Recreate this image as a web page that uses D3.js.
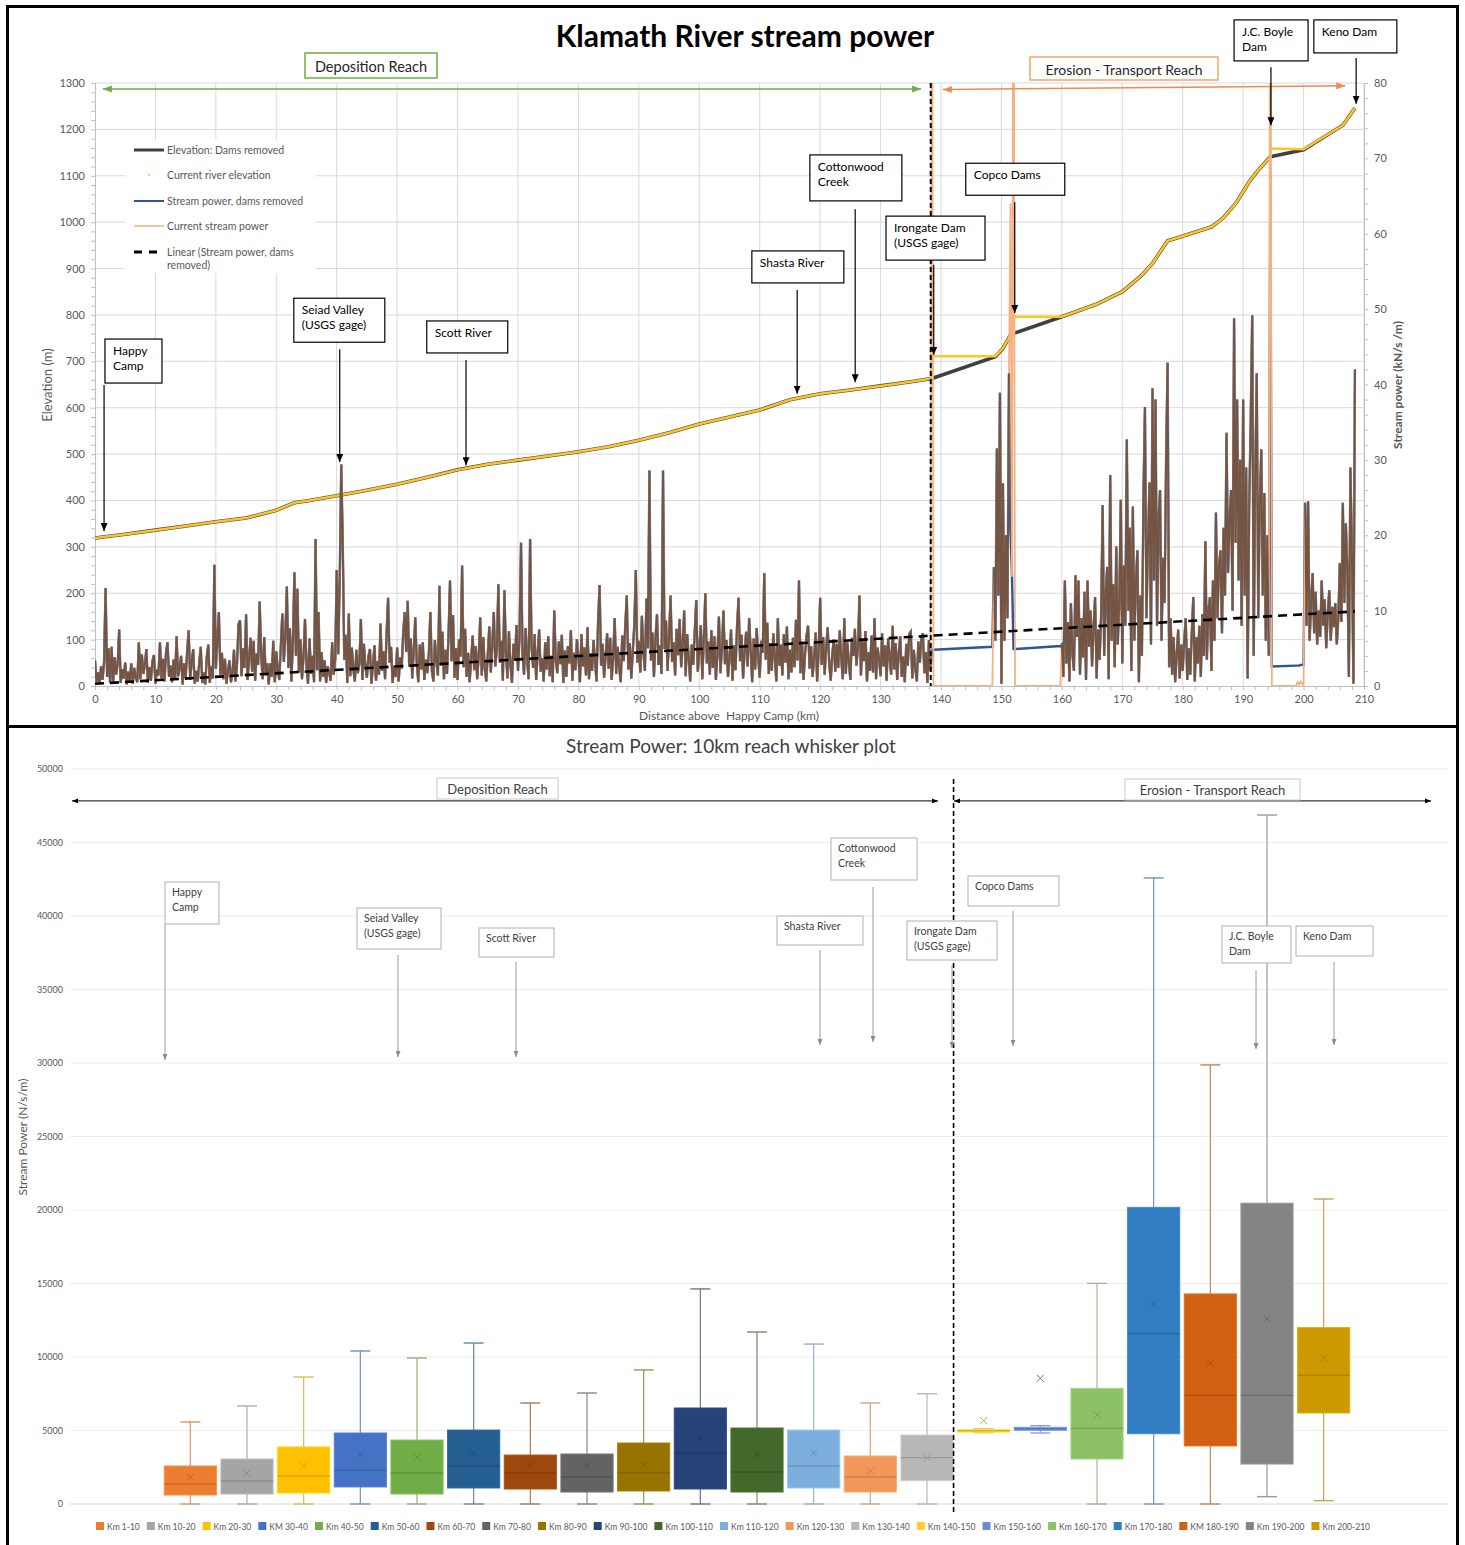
<!DOCTYPE html>
<html>
<head>
<meta charset="utf-8">
<title>Klamath River stream power</title>
<script src="https://cdn.jsdelivr.net/npm/d3@7/dist/d3.min.js"></script>
<style>
  body { margin: 0; background: #fff; }
  svg { display: block; font-family: Lato, "Open Sans", sans-serif; }
  .axis path, .axis line { stroke: #BFBFBF; }
  .axis text { fill: #595959; font-size: 11px; font-family: Lato, sans-serif; }
  .axisB text { font-size: 9px; }
</style>
</head>
<body>
<svg id="chart" width="1465" height="1545"></svg>
<script>
// ---------- top chart data ----------
// river profile (m), km above Happy Camp
const elevKm = [0, 5, 10, 15, 20, 25, 30, 33, 35, 40, 45, 50, 55, 60, 65, 70, 75, 80, 85, 90,
  95, 100, 105, 110, 115, 120, 125, 130, 135, 138.5, 149, 150.3, 151.5, 152, 160, 165.7, 170, 173.1, 175, 177.5,
  179.3, 184.8, 186.7, 188.8, 191, 192.3, 194.5, 200, 206.5, 208.5]
const elevRemoved = [319, 327, 336, 345, 354, 362, 379, 395, 399, 410, 422, 435, 450, 466, 478, 487, 496, 505, 516, 530,
  546, 565, 580, 595, 617, 630, 638, 647, 656, 663, 710, 729, 757, 760, 796, 823, 850, 884, 911, 960,
  967, 990, 1009, 1041, 1087, 1109, 1141, 1156, 1209, 1246]
const elevCurrentKm = [0, 5, 10, 15, 20, 25, 30, 33, 35, 40, 45, 50, 55, 60, 65, 70, 75, 80, 85, 90,
  95, 100, 105, 110, 115, 120, 125, 130, 135, 138.5, 138.55, 149, 150.3, 151.5, 152, 152.05, 160, 165.7, 170, 173.1,
  175, 177.5, 179.3, 184.8, 186.7, 188.8, 191, 192.3, 194.5, 194.55, 200, 206.5, 208.5]
const elevCurrent = [319, 327, 336, 345, 354, 362, 379, 395, 399, 410, 422, 435, 450, 466, 478, 487, 496, 505, 516, 530,
  546, 565, 580, 595, 617, 630, 638, 647, 656, 663, 711, 711, 729, 757, 760, 796, 796, 823, 850, 884,
  911, 960, 967, 990, 1009, 1041, 1087, 1109, 1141, 1159, 1157, 1209, 1246]

// stream power with dams removed (kN/s/m), one value every 0.25 km
const STEP = 0.25
const powerDeposition = [ // km 0 - 138.25
  3.4, 0.5, 1.8, 0.3, 2.6, 0.8, 3.2, 13.0, 1.2, 5.0, 0.4, 5.2, 0.6, 3.8, 1.5, 2.9, 7.5, 0.4, 2.2, 1.0,
  3.1, 0.2, 1.9, 0.6, 3.0, 0.3, 2.4, 1.1, 0.5, 5.8, 0.9, 4.2, 1.6, 2.8, 4.9, 0.4, 2.5, 0.7, 3.3, 4.1,
  0.3, 2.2, 1.4, 5.8, 1.0, 3.6, 0.6, 4.4, 5.8, 1.2, 2.7, 0.5, 3.5, 0.9, 6.6, 1.3, 2.4, 4.0, 0.2, 3.0,
  1.1, 4.6, 7.4, 0.8, 3.2, 4.9, 0.3, 2.0, 0.6, 3.1, 5.2, 0.4, 1.8, 0.2, 3.9, 5.5, 0.4, 2.6, 1.0, 16.1,
  2.3, 6.1, 9.8, 1.5, 4.4, 0.9, 3.6, 0.3, 2.0, 3.4, 0.5, 1.7, 4.8, 0.6, 2.9, 8.2, 8.7, 1.3, 5.0, 2.4,
  9.5, 0.8, 3.7, 6.4, 1.9, 6.0, 0.7, 4.3, 2.8, 11.2, 4.1, 0.9, 6.5, 1.4, 3.0, 0.2, 3.0, 1.2, 6.0, 0.5,
  4.6, 2.1, 0.8, 5.3, 9.6, 3.2, 6.8, 13.2, 2.4, 7.7, 0.6, 5.9, 15.1, 4.0, 12.9, 1.8, 6.2, 0.9, 3.8, 8.9,
  2.7, 0.3, 6.3, 1.6, 4.0, 0.5, 19.5, 2.1, 9.8, 0.6, 4.5, 1.2, 3.4, 0.4, 2.6, 1.8, 0.7, 5.8, 1.5, 3.6,
  15.4, 4.2, 14.2, 29.4, 19.0, 3.5, 6.8, 0.4, 9.6, 1.3, 5.1, 2.2, 0.6, 4.8, 1.7, 3.0, 8.9, 0.8, 5.6, 2.5,
  1.1, 3.9, 4.9, 0.3, 2.8, 5.4, 0.7, 3.3, 1.5, 8.3, 2.0, 4.6, 0.9, 6.9, 11.7, 3.1, 5.2, 0.4, 2.7, 1.2,
  5.1, 0.6, 3.8, 2.3, 7.0, 9.8, 4.5, 11.3, 2.6, 6.3, 1.0, 4.7, 9.1, 3.0, 0.5, 5.5, 2.2, 5.8, 0.8, 3.5,
  1.7, 4.4, 9.8, 2.0, 0.6, 6.1, 3.2, 1.4, 13.3, 2.7, 7.2, 0.9, 4.8, 1.6, 6.7, 14.0, 3.3, 9.4, 1.1, 5.0,
  0.8, 6.2, 3.9, 16.0, 2.5, 7.6, 1.2, 4.4, 0.5, 3.7, 6.7, 2.1, 5.3, 0.9, 4.0, 9.1, 1.4, 6.5, 2.3, 0.6,
  4.2, 7.9, 1.8, 5.7, 9.8, 2.6, 4.9, 13.5, 3.1, 6.0, 0.7, 12.7, 4.5, 1.0, 7.3, 2.8, 0.4, 5.6, 3.4, 8.1,
  2.0, 6.4, 19.0, 4.3, 1.5, 7.7, 3.6, 0.9, 19.5, 5.2, 2.4, 6.9, 0.8, 4.1, 7.5, 1.9, 3.7, 0.6, 5.8, 2.2,
  6.6, 1.3, 4.0, 0.5, 10.0, 3.5, 1.7, 5.9, 2.9, 6.8, 0.4, 4.7, 1.2, 5.3, 3.0, 7.4, 0.7, 4.4, 2.1, 6.2,
  3.8, 0.5, 6.9, 2.6, 5.1, 1.4, 7.8, 0.9, 4.3, 2.0, 6.1, 3.2, 0.6, 8.5, 13.4, 2.7, 5.6, 1.1, 4.0, 7.0,
  2.3, 6.4, 0.8, 3.9, 9.0, 1.6, 5.2, 2.5, 0.5, 6.7, 3.3, 7.9, 12.0, 2.2, 5.7, 1.0, 4.6, 8.2, 15.4, 3.1,
  6.0, 1.8, 9.3, 4.5, 2.0, 11.6, 5.0, 28.6, 3.4, 7.1, 1.2, 6.3, 9.5, 2.8, 5.4, 1.6, 28.6, 4.9, 8.7, 2.0,
  6.5, 12.0, 3.2, 5.8, 1.4, 7.6, 4.1, 8.9, 2.5, 5.3, 10.0, 1.3, 6.9, 3.7, 0.6, 5.5, 2.8, 7.3, 11.4, 1.9,
  4.7, 8.1, 0.9, 6.2, 12.3, 3.0, 5.9, 1.5, 7.4, 2.4, 6.6, 0.8, 4.3, 9.2, 1.7, 5.0, 10.0, 2.9, 6.1, 1.2,
  3.6, 7.5, 0.7, 5.4, 2.1, 8.0, 11.7, 3.3, 6.8, 1.0, 4.6, 7.2, 2.6, 9.0, 4.9, 0.5, 6.3, 2.2, 7.7, 3.8,
  1.1, 6.0, 4.4, 15.0, 3.5, 8.4, 1.6, 5.7, 2.0, 7.0, 3.9, 0.6, 9.0, 2.7, 5.5, 1.4, 6.9, 3.1, 7.9, 0.9,
  4.8, 1.8, 6.4, 2.5, 8.8, 3.4, 14.0, 1.7, 5.9, 0.8, 4.2, 6.7, 8.0, 2.3, 5.3, 1.2, 3.7, 7.1, 0.6, 4.6,
  11.7, 2.8, 6.5, 1.5, 5.2, 7.8, 3.0, 0.7, 4.1, 6.2, 1.9, 5.6, 2.4, 7.4, 3.6, 0.9, 9.0, 1.6, 5.8, 3.2,
  0.8, 6.4, 4.0, 7.6, 2.7, 5.0, 12.0, 1.4, 6.1, 3.3, 7.3, 0.6, 4.5, 2.0, 6.7, 1.8, 9.0, 0.9, 5.1, 3.6,
  1.3, 7.0, 2.6, 5.4, 0.7, 6.3, 3.8, 1.5, 8.0, 2.2, 5.7, 0.8, 4.3, 6.6, 1.2, 3.9, 0.5, 5.6, 2.7, 6.9,
  7.2, 1.0, 4.8, 2.3, 0.6, 5.9, 3.1, 6.4, 7.0, 1.7, 4.5, 0.4, 6.1, 2.0
]
const powerCopcoCanyon = [15.8, 6.0, 31.5, 12.0, 38.9, 0.3, 26.9, 6.0, 20.0, 9.0, 41.5] // km 148.75 - 151.25
const powerUpper = [ // km 160 - 194.25
  5.5, 1.2, 14.0, 3.0, 8.5, 0.6, 11.0, 4.2, 2.0, 14.7, 6.5, 14.0, 1.5, 9.0, 3.8, 12.5, 0.8, 14.0, 5.2, 10.0,
  2.6, 8.0, 11.8, 1.0, 7.5, 3.5, 9.5, 24.0, 4.0, 12.0, 15.8, 0.9, 28.0, 6.0, 13.5, 2.5, 18.5, 5.5, 11.0, 24.7,
  3.0, 16.0, 8.0, 32.7, 10.0, 21.0, 2.0, 23.8, 6.0, 14.0, 18.0, 0.5, 12.0, 4.0, 25.0, 37.0, 9.0, 19.0, 27.0, 5.5,
  39.5, 14.0, 38.0, 8.0, 22.0, 26.0, 6.0, 17.0, 11.0, 30.0, 42.9, 2.5, 9.0, 1.5, 6.5, 0.5, 4.0, 7.5, 1.0, 5.5,
  2.0, 6.0, 9.0, 0.8, 5.0, 1.5, 7.0, 11.8, 0.6, 6.5, 3.0, 8.0, 1.2, 9.5, 4.0, 19.2, 3.5, 10.0, 11.8, 2.0,
  14.0, 6.0, 23.0, 9.0, 16.0, 18.0, 7.0, 21.0, 12.0, 33.6, 15.0, 22.0, 26.0, 10.0, 48.8, 19.0, 38.0, 14.0, 30.0, 8.0,
  38.0, 12.0, 29.0, 1.0, 24.0, 35.0, 49.2, 4.0, 28.0, 41.5, 9.0, 24.0, 31.4, 12.0, 25.6, 6.0, 20.0, 4.0
]
const powerKeno = [ // km 200.25 - 208.5
  24.3, 8.0, 24.5, 6.0, 11.0, 15.0, 7.0, 12.5, 5.5, 10.0, 6.5, 14.0, 8.0, 11.5, 5.0, 9.5, 12.7,
  6.0, 10.5, 7.8, 11.0, 5.5, 9.0, 16.3, 8.5, 24.3, 11.0, 21.6, 15.0, 1.2, 29.0, 18.0, 0.3, 42.0
]
// dam sites and reservoirs: power with dams removed vs. current power
const damKm = [138.5, 138.75, 148.5, 151.5, 151.75, 152, 152.25, 159.75,
  194.5, 194.75, 198.75, 199, 199.25, 199.5, 199.75, 200]
const damRemoved = [4.8, 4.8, 5.2, 21.0, 14.5, 4.9, 4.9, 5.3,
  68.0, 2.6, 2.7, 2.7, 2.7, 2.8, 2.8, 2.8]
const damCurrent = [120, 0, 0, 64.0, 14.5, 120, 0, 0,
  120, 0, 0, 0.5, 0.2, 0.6, 0.3, 0]
// Excel linear trend of the dams-removed power
const trendKm = [0, 208.5]
const trendPower = [0.3, 9.9]

// ---------- bottom chart data (N/s/m) ----------
const reaches = ['Km 1-10', 'Km 10-20', 'Km 20-30', 'KM 30-40', 'Km 40-50', 'Km 50-60', 'Km 60-70',
  'Km 70-80', 'Km 80-90', 'Km 90-100', 'Km 100-110', 'Km 110-120', 'Km 120-130', 'Km 130-140',
  'Km 140-150', 'Km 150-160', 'Km 160-170', 'Km 170-180', 'KM 180-190', 'Km 190-200', 'Km 200-210']
const whiskerLow = [0, 0, 0, 0, 0, 0, 0, 0, 0, 0, 0, 0, 0, 0, 4850, 4830, 0, 0, 0, 500, 230]
const q1 = [612, 680, 750, 1160, 680, 1090, 1020, 816, 885, 1020, 816, 1090, 816, 1585, 4900, 5010, 3060, 4780, 3950, 2720, 6190]
const median = [1360, 1565, 1900, 2310, 2110, 2585, 2110, 1840, 2110, 3470, 2180, 2585, 1840, 3150, 4980, 5120, 5150, 11590, 7390, 7390, 8760]
const q3 = [2585, 3060, 3880, 4830, 4350, 5030, 3330, 3400, 4150, 6530, 5170, 5030, 3265, 4690, 5060, 5220, 7870, 20180, 14290, 20460, 12000]
const whiskerHigh = [5580, 6670, 8640, 10410, 9930, 10950, 6870, 7550, 9120, 14630, 11700, 10880, 6870, 7500, 5120, 5330, 15010, 42590, 29870, 46870, 20750]
const mean = [1840, 2110, 2585, 3400, 3200, 3470, 2650, 2585, 2650, 4490, 3400, 3470, 2245, 3130, 5670, 8550, 6050, 13600, 9570, 12590, 9950]
const reachColors = ['#ED7D31', '#A5A5A5', '#FFC000', '#4472C4', '#70AD47', '#255E91', '#9E480E',
  '#636363', '#997300', '#264478', '#43682B', '#7CAFDD', '#F1975A', '#B7B7B7',
  '#FFCD33', '#698ED0', '#8CC168', '#327DC2', '#D26012', '#848484', '#CC9A00']

// ---------- callouts ----------
const topNotes = [
  { lines: ['Happy', 'Camp'], km: 1.5, boxKm: 1.65, boxElev: 748, w: 57, h: 44, from: 649, to: 334 },
  { lines: ['Seiad Valley', '(USGS gage)'], km: 40.5, boxKm: 32.9, boxElev: 836, w: 91, h: 44, from: 726, to: 483 },
  { lines: ['Scott River'], km: 61.4, boxKm: 54.9, boxElev: 787, w: 81, h: 32, from: 703, to: 476 },
  { lines: ['Shasta River'], km: 116.2, boxKm: 108.7, boxElev: 938, w: 92, h: 32, from: 854, to: 630 },
  { lines: ['Cottonwood', 'Creek'], km: 125.8, boxKm: 118.3, boxElev: 1145, w: 92, h: 46, from: 1028, to: 655 },
  { lines: ['Irongate Dam', '(USGS gage)'], km: 138.8, boxKm: 130.9, boxElev: 1013, w: 99, h: 44, from: 908, to: 714 },
  { lines: ['Copco Dams'], km: 152.2, boxKm: 144.1, boxElev: 1127, w: 99, h: 32, from: 1043, to: 804 },
  { lines: ['J.C. Boyle', 'Dam'], km: 194.6, boxKm: 188.5, boxElev: 1436, w: 74, h: 41, from: 1334, to: 1209 },
  { lines: ['Keno Dam'], km: 208.7, boxKm: 201.7, boxElev: 1436, w: 83, h: 33, from: 1354, to: 1255 }
]
const bottomNotes = [
  { lines: ['Happy', 'Camp'], box: [165, 882, 54, 42], ax: 165, ay: [924, 1060] },
  { lines: ['Seiad Valley', '(USGS gage)'], box: [357, 908, 84, 41], ax: 398, ay: [955, 1057] },
  { lines: ['Scott River'], box: [479, 928, 75, 29], ax: 516, ay: [962, 1057] },
  { lines: ['Shasta River'], box: [777, 916, 86, 29], ax: 820, ay: [950, 1045] },
  { lines: ['Cottonwood', 'Creek'], box: [831, 838, 86, 42], ax: 873, ay: [887, 1042] },
  { lines: ['Irongate Dam', '(USGS gage)'], box: [907, 921, 90, 39], ax: 952, ay: [965, 1048] },
  { lines: ['Copco Dams'], box: [968, 876, 91, 30], ax: 1013, ay: [911, 1046] },
  { lines: ['J.C. Boyle', 'Dam'], box: [1222, 926, 69, 37], ax: 1256, ay: [970, 1049] },
  { lines: ['Keno Dam'], box: [1296, 926, 77, 30], ax: 1334, ay: [962, 1045] }
]

// ================= drawing =================
const svg = d3.select('#chart')
const defs = svg.append('defs')

function arrowHead(id, color, len, wid) {
  defs.append('marker').attr('id', id)
    .attr('viewBox', `0 0 ${len} ${wid}`).attr('refX', len).attr('refY', wid / 2)
    .attr('markerWidth', len).attr('markerHeight', wid)
    .attr('markerUnits', 'userSpaceOnUse').attr('orient', 'auto-start-reverse')
    .append('path').attr('d', `M0,0L${len},${wid / 2}L0,${wid}z`).attr('fill', color)
}
arrowHead('headBlack', '#000', 8, 7)
arrowHead('headGreen', '#70AD47', 9, 7)
arrowHead('headOrange', '#F08A4B', 9, 7)
arrowHead('headGray', '#8C8C8C', 6, 5)
arrowHead('headSmall', '#000', 6, 5)

// panel frames
svg.append('rect').attr('x', 7.5).attr('y', 6.5).attr('width', 1450).attr('height', 720)
  .attr('fill', 'none').attr('stroke', '#000').attr('stroke-width', 3)
svg.append('rect').attr('x', 7.5).attr('y', 726.5).attr('width', 1450).attr('height', 840)
  .attr('fill', 'none').attr('stroke', '#000').attr('stroke-width', 3)

// ---------- top chart ----------
const topG = svg.append('g')
const x = d3.scaleLinear().domain([0, 210]).range([95, 1364])
const yElev = d3.scaleLinear().domain([0, 1300]).range([686, 83])
const yPow = d3.scaleLinear().domain([0, 80]).range([686, 83])

topG.append('g').selectAll('line').data(d3.range(10, 211, 10)).join('line')
  .attr('x1', x).attr('x2', x).attr('y1', yElev(0)).attr('y2', yElev(1300))
  .attr('stroke', '#D9D9D9')
topG.append('g').selectAll('line').data(d3.range(100, 1301, 100)).join('line')
  .attr('x1', x(0)).attr('x2', x(210)).attr('y1', yElev).attr('y2', yElev)
  .attr('stroke', '#D9D9D9')

topG.append('g').attr('class', 'axis').attr('transform', `translate(0,${yElev(0)})`)
  .call(d3.axisBottom(x).tickValues(d3.range(0, 211, 2)).tickSize(4).tickPadding(5)
    .tickFormat(d => d % 10 === 0 ? d : ''))
topG.append('g').attr('class', 'axis').attr('transform', `translate(${x(0)},0)`)
  .call(d3.axisLeft(yElev).tickValues(d3.range(0, 1301, 20)).tickSize(4).tickPadding(6)
    .tickFormat(d => d % 100 === 0 ? d : ''))
topG.append('g').attr('class', 'axis').attr('transform', `translate(${x(210)},0)`)
  .call(d3.axisRight(yPow).tickValues(d3.range(0, 81, 2)).tickSize(4).tickPadding(6)
    .tickFormat(d => d % 10 === 0 ? d : ''))

topG.append('text').attr('transform', 'translate(52,385) rotate(-90)').attr('text-anchor', 'middle')
  .attr('fill', '#595959').attr('font-size', 13).text('Elevation (m)')
topG.append('text').attr('transform', 'translate(1402,385) rotate(-90)').attr('text-anchor', 'middle')
  .attr('fill', '#595959').attr('font-size', 12).attr('font-weight', 'bold').text('Stream power (kN/s /m)')
topG.append('text').attr('x', 729).attr('y', 720).attr('text-anchor', 'middle').style('white-space', 'pre')
  .attr('fill', '#595959').attr('font-size', 12).text('Distance above  Happy Camp (km)')
topG.append('text').attr('x', 745).attr('y', 47).attr('text-anchor', 'middle')
  .attr('font-size', 30).attr('font-weight', 'bold').attr('fill', '#000').text('Klamath River stream power')

defs.append('clipPath').attr('id', 'plotClip').append('rect')
  .attr('x', x(0)).attr('y', yPow(80)).attr('width', x(210) - x(0)).attr('height', yPow(0) - yPow(80))

// elevation profiles
const elevLine = d3.line().x(d => x(d[0])).y(d => yElev(d[1]))
topG.append('path').datum(elevKm.map((k, i) => [k, elevRemoved[i]])).attr('d', elevLine)
  .attr('fill', 'none').attr('stroke', '#404040').attr('stroke-width', 3.6)
topG.append('path').datum(elevCurrentKm.map((k, i) => [k, elevCurrent[i]])).attr('d', elevLine)
  .attr('fill', 'none').attr('stroke', '#FFC526').attr('stroke-width', 2.5)

// stream power series
const powerPoints = []
const addReach = (start, values) => values.forEach((v, i) =>
  powerPoints.push({ km: start + i * STEP, removed: v, current: v }))
addReach(0, powerDeposition)
addReach(148.75, powerCopcoCanyon)
addReach(160, powerUpper)
addReach(200.25, powerKeno)
damKm.forEach((k, i) => powerPoints.push({ km: k, removed: damRemoved[i], current: damCurrent[i] }))
powerPoints.sort((a, b) => a.km - b.km)

const pow = topG.append('g').attr('clip-path', 'url(#plotClip)')
pow.append('path').datum(powerPoints)
  .attr('d', d3.line().x(d => x(d.km)).y(d => yPow(d.removed)))
  .attr('fill', 'none').attr('stroke', '#2F5597').attr('stroke-width', 2.4)
pow.append('path').datum(powerPoints)
  .attr('d', d3.line().x(d => x(d.km)).y(d => yPow(d.current)))
  .attr('fill', 'none').attr('stroke', '#F4B183').attr('stroke-width', 1.8)
// where both series coincide the two strokes blend to brown
pow.append('path').datum(powerPoints)
  .attr('d', d3.line().defined(d => d.removed === d.current).x(d => x(d.km)).y(d => yPow(d.current)))
  .attr('fill', 'none').attr('stroke', '#745543').attr('stroke-width', 2)
pow.append('path').datum(trendKm.map((k, i) => [k, trendPower[i]]))
  .attr('d', d3.line().x(d => x(d[0])).y(d => yPow(d[1])))
  .attr('fill', 'none').attr('stroke', '#000').attr('stroke-width', 2.6).attr('stroke-dasharray', '9,6')

// reach divide
topG.append('line').attr('x1', x(138.3)).attr('x2', x(138.3)).attr('y1', yElev(1300)).attr('y2', yElev(0))
  .attr('stroke', '#000').attr('stroke-width', 2).attr('stroke-dasharray', '5,3')

// reach arrows and labels
topG.append('line').attr('x1', x(1.3)).attr('x2', x(136.7)).attr('y1', yElev(1287)).attr('y2', yElev(1287))
  .attr('stroke', '#70AD47').attr('stroke-width', 1.5)
  .attr('marker-start', 'url(#headGreen)').attr('marker-end', 'url(#headGreen)')
topG.append('line').attr('x1', x(140.3)).attr('x2', x(206.9)).attr('y1', yElev(1286)).attr('y2', yElev(1294))
  .attr('stroke', '#F08A4B').attr('stroke-width', 1.5)
  .attr('marker-start', 'url(#headOrange)').attr('marker-end', 'url(#headOrange)')
topG.append('rect').attr('x', 305).attr('y', 53).attr('width', 132).attr('height', 25)
  .attr('fill', '#fff').attr('stroke', '#70AD47').attr('stroke-width', 1.5)
topG.append('text').attr('x', 371).attr('y', 71.5).attr('text-anchor', 'middle')
  .attr('font-size', 14.5).attr('fill', '#262626').text('Deposition Reach')
topG.append('rect').attr('x', 1030).attr('y', 57).attr('width', 188).attr('height', 23)
  .attr('fill', '#fff').attr('stroke', '#F4A46E').attr('stroke-width', 1.5)
topG.append('text').attr('x', 1124).attr('y', 74.5).attr('text-anchor', 'middle')
  .attr('font-size', 14).attr('fill', '#262626').text('Erosion - Transport Reach')

// legend
const leg = topG.append('g')
leg.append('rect').attr('x', 125).attr('y', 140).attr('width', 191).attr('height', 133).attr('fill', '#fff')
const legRows = [
  { y: 150, label: ['Elevation: Dams removed'], stroke: '#404040', width: 3 },
  { y: 175, label: ['Current river elevation'], dot: '#FFC000' },
  { y: 201, label: ['Stream power, dams removed'], stroke: '#2F5597', width: 2 },
  { y: 226, label: ['Current stream power'], stroke: '#F4B183', width: 1.5 },
  { y: 252, label: ['Linear (Stream power, dams', 'removed)'], stroke: '#000', width: 3, dash: '8,7' }
]
legRows.forEach(r => {
  if (r.stroke) {
    leg.append('line').attr('x1', 134).attr('x2', 164).attr('y1', r.y).attr('y2', r.y)
      .attr('stroke', r.stroke).attr('stroke-width', r.width).attr('stroke-dasharray', r.dash || null)
  } else {
    leg.append('circle').attr('cx', 149).attr('cy', r.y).attr('r', 1).attr('fill', r.dot)
  }
  const t = leg.append('text').attr('x', 167).attr('y', r.y + 3.5).attr('font-size', 10.5).attr('fill', '#595959')
  r.label.forEach((l, i) => t.append('tspan').attr('x', 167).attr('dy', i ? 13 : 0).text(l))
})

// callouts
const tn = topG.append('g').selectAll('g').data(topNotes).join('g')
tn.append('rect')
  .attr('x', d => x(d.boxKm)).attr('y', d => yElev(d.boxElev))
  .attr('width', d => d.w).attr('height', d => d.h)
  .attr('fill', '#fff').attr('stroke', '#000').attr('stroke-width', 1.2)
tn.each(function (d) {
  const t = d3.select(this).append('text').attr('y', yElev(d.boxElev) + 16)
    .attr('font-size', 12).attr('fill', '#000')
  d.lines.forEach((l, i) => t.append('tspan').attr('x', x(d.boxKm) + 8).attr('dy', i ? 15 : 0).text(l))
})
tn.append('line')
  .attr('x1', d => x(d.km)).attr('x2', d => x(d.km))
  .attr('y1', d => yElev(d.from)).attr('y2', d => yElev(d.to))
  .attr('stroke', '#000').attr('stroke-width', 1.2).attr('marker-end', 'url(#headBlack)')

// ---------- bottom chart ----------
const botG = svg.append('g')
const yB = d3.scaleLinear().domain([0, 50000]).range([1504, 769])
const xB = d3.scaleBand().domain(reaches).range([162, 1352]).paddingInner(0.08).paddingOuter(0.04)

botG.append('text').attr('x', 731).attr('y', 753).attr('text-anchor', 'middle')
  .attr('font-size', 19).attr('fill', '#404040').text('Stream Power: 10km reach whisker plot')

botG.append('g').selectAll('line').data(d3.range(0, 50001, 5000)).join('line')
  .attr('x1', 70).attr('x2', 1448).attr('y1', yB).attr('y2', yB)
  .attr('stroke', d => d === 0 ? '#D9D9D9' : '#EDEDED')
botG.append('g').attr('class', 'axis axisB').attr('transform', 'translate(70,0)')
  .call(d3.axisLeft(yB).tickValues(d3.range(0, 50001, 5000)).tickSize(0).tickPadding(7).tickFormat(d3.format('d')))
  .call(g => g.select('.domain').remove())
botG.append('text').attr('transform', 'translate(27,1137) rotate(-90)').attr('text-anchor', 'middle')
  .attr('font-size', 12).attr('fill', '#595959').text('Stream Power (N/s/m)')

const bw = xB.bandwidth()
const boxes = botG.append('g').selectAll('g').data(reaches).join('g')
  .attr('transform', d => `translate(${xB(d)},0)`)
boxes.each(function (d, i) {
  const g = d3.select(this)
  const c = reachColors[i]
  const wc = d3.interpolateRgb(c, '#B4B4B4')(0.45)
  const cx = bw / 2
  g.append('line').attr('x1', cx).attr('x2', cx).attr('y1', yB(whiskerHigh[i])).attr('y2', yB(whiskerLow[i]))
    .attr('stroke', wc).attr('stroke-width', 1.2)
  ;[whiskerHigh[i], whiskerLow[i]].forEach(v => g.append('line')
    .attr('x1', cx - 10).attr('x2', cx + 10).attr('y1', yB(v)).attr('y2', yB(v))
    .attr('stroke', wc).attr('stroke-width', 1.4))
  g.append('rect').attr('x', 0).attr('width', bw)
    .attr('y', yB(q3[i])).attr('height', Math.max(yB(q1[i]) - yB(q3[i]), 2.5))
    .attr('fill', c).attr('stroke', d3.color(c).brighter(0.35)).attr('stroke-width', 1)
  g.append('line').attr('x1', 0).attr('x2', bw).attr('y1', yB(median[i])).attr('y2', yB(median[i]))
    .attr('stroke', d3.color(c).darker(0.7)).attr('stroke-width', 1)
  const my = yB(mean[i])
  const mc = d3.color(c).darker(0.5)
  g.append('path').attr('d', `M${cx - 3.5},${my - 3.5}L${cx + 3.5},${my + 3.5}M${cx - 3.5},${my + 3.5}L${cx + 3.5},${my - 3.5}`)
    .attr('stroke', mc).attr('stroke-width', 1).attr('fill', 'none')
})

// reach divide and reach arrows
const divideX = xB('Km 130-140') + bw + 0.5
botG.append('line').attr('x1', divideX).attr('x2', divideX).attr('y1', 779).attr('y2', 1514)
  .attr('stroke', '#000').attr('stroke-width', 1.6).attr('stroke-dasharray', '5,3')
botG.append('line').attr('x1', 72).attr('x2', 938).attr('y1', yB(47830)).attr('y2', yB(47830))
  .attr('stroke', '#000').attr('stroke-width', 1)
  .attr('marker-start', 'url(#headSmall)').attr('marker-end', 'url(#headSmall)')
botG.append('line').attr('x1', 954).attr('x2', 1431).attr('y1', yB(47830)).attr('y2', yB(47830))
  .attr('stroke', '#000').attr('stroke-width', 1)
  .attr('marker-start', 'url(#headSmall)').attr('marker-end', 'url(#headSmall)')
botG.append('rect').attr('x', 437).attr('y', 778).attr('width', 121).attr('height', 21)
  .attr('fill', '#fff').attr('stroke', '#C8C8C8')
botG.append('text').attr('x', 497.5).attr('y', 793.5).attr('text-anchor', 'middle')
  .attr('font-size', 13).attr('fill', '#404040').text('Deposition Reach')
botG.append('rect').attr('x', 1125).attr('y', 779).attr('width', 175).attr('height', 21)
  .attr('fill', '#fff').attr('stroke', '#C8C8C8')
botG.append('text').attr('x', 1212.5).attr('y', 794.5).attr('text-anchor', 'middle')
  .attr('font-size', 13).attr('fill', '#404040').text('Erosion - Transport Reach')

const bn = botG.append('g').selectAll('g').data(bottomNotes).join('g')
bn.append('rect').attr('x', d => d.box[0]).attr('y', d => d.box[1])
  .attr('width', d => d.box[2]).attr('height', d => d.box[3])
  .attr('fill', '#fff').attr('stroke', '#B0B0B0')
bn.each(function (d) {
  const t = d3.select(this).append('text').attr('y', d.box[1] + 14)
    .attr('font-size', 10.5).attr('fill', '#404040')
  d.lines.forEach((l, i) => t.append('tspan').attr('x', d.box[0] + 7).attr('dy', i ? 14.5 : 0).text(l))
})
bn.append('line').attr('x1', d => d.ax).attr('x2', d => d.ax)
  .attr('y1', d => d.ay[0]).attr('y2', d => d.ay[1])
  .attr('stroke', '#9A9A9A').attr('stroke-width', 1).attr('marker-end', 'url(#headGray)')

// legend: measure labels first, then spread the entries across 96 – 1370
const legB = botG.append('g')
const items = reaches.map((r, i) => {
  const g = legB.append('g')
  g.append('rect').attr('width', 8).attr('height', 8).attr('fill', reachColors[i])
  const t = g.append('text').attr('x', 11).attr('y', 7.5).attr('font-size', 8.5).attr('fill', '#595959').text(r)
  return { g, w: 11 + t.node().getComputedTextLength() }
})
const gap = (1370 - 96 - d3.sum(items, d => d.w)) / (items.length - 1)
let lx = 96
items.forEach(it => {
  it.g.attr('transform', `translate(${lx},1522)`)
  lx += it.w + gap
})
</script>
</body>
</html>
